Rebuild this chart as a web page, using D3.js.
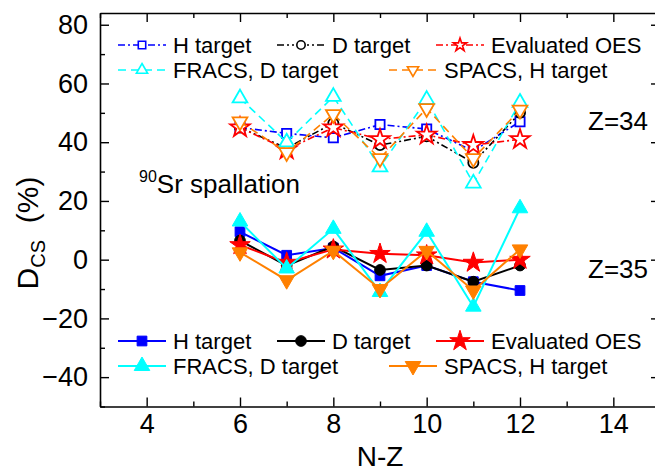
<!DOCTYPE html>
<html>
<head>
<meta charset="utf-8">
<script src="https://cdn.jsdelivr.net/npm/d3@7"></script>
<style>
  body { margin: 0; background: #fff; }
  svg text { font-family: "Liberation Sans", Arial, sans-serif; fill: #000; }
</style>
</head>
<body>
<div id="chart"></div>
<script>
// Dados
var nz = [6, 7, 8, 9, 10, 11, 12];
// Z=34 (linhas tracejadas, marcadores vazados)
var z34_h     = [45, 43, 41.5, 46, 44.5, 37, 47];
var z34_d     = [45, 38, 46.5, 39, 42, 33, 50];
var z34_oes   = [45, 37.5, 45, 41, 42.5, 39, 41];
var z34_fracs = [55, 40, 55.5, 31.5, 54.5, 26, 53.5];
var z34_spacs = [47, 36.5, 49.5, 34.5, 51.5, 34.5, 51];
// Z=35 (linhas cheias, marcadores preenchidos)
var z35_h     = [9.5, 1.5, 4, -5.5, -2, -7.5, -10.5];
var z35_d     = [6.5, -2, 4.5, -3.5, -2, -7.5, -2];
var z35_oes   = [5, -1, 3.5, 2, 1.5, -1, 0];
var z35_fracs = [13, -3, 10.5, -11, 9.5, -16, 17.5];
var z35_spacs = [2.5, -7, 3, -10, 3, -10.5, 3.5];
var names34 = ["H target", "D target", "Evaluated OES", "FRACS, D target", "SPACS, H target"];
var names35 = ["H target", "D target", "Evaluated OES", "FRACS, D target", "SPACS,  H target"];
var xTicks = [4, 6, 8, 10, 12, 14];
var yTicks = [-40, -20, 0, 20, 40, 60, 80];

(function () {
	'use strict';
	var W = 655, H = 472;
	var margin = {left: 100, top: 13};
	var width = 560, height = 393.5;

	var colors = ["#0000ff", "#000000", "#ff0000", "#00ffff", "#ff8000"];
	var symbols = [d3.symbolSquare, d3.symbolCircle, d3.symbolStar, d3.symbolTriangle, d3.symbolTriangle];
	var sizes = [95, 90, 130, 105, 105];
	var flip = [false, false, false, false, true];
	var dash34 = ["7,3,2,3", "7,3,2,3,2,3", "7,3,2,3", "8,5", "8,5"];

	var x = d3.scaleLinear().domain([3, 15]).range([0, width]);
	var y = d3.scaleLinear().domain([-50, 84]).range([height, 0]);

	var svg = d3.select("#chart").append("svg")
		.attr("width", W).attr("height", H);
	var g = svg.append("g")
		.attr("transform", "translate(" + margin.left + "," + margin.top + ")");

	//Eixos com ticks para dentro
	function minor(dom, step) { return d3.range(dom[0], dom[1] + 0.001, step); }
	var xMinor = minor([3, 15], 1).filter(function (v) { return xTicks.indexOf(v) < 0; });
	var yMinor = minor([-50, 84], 10).filter(function (v) { return yTicks.indexOf(v) < 0; });

	function axisStyle(sel) {
		sel.select(".domain").attr("stroke", "#000").attr("stroke-width", 1.6);
		sel.selectAll(".tick line").attr("stroke", "#000").attr("stroke-width", 1.4);
		sel.selectAll("text").style("font-size", "27px");
	}
	function minorStyle(s) {
		s.select(".domain").remove();
		s.selectAll("line").attr("stroke", "#000").attr("stroke-width", 1.4);
	}
	var gx = g.append("g").attr("transform", "translate(0," + height + ")")
		.call(d3.axisBottom(x).tickValues(xTicks).tickSizeInner(-9).tickSizeOuter(0).tickPadding(7));
	axisStyle(gx);
	gx.append("g").call(d3.axisBottom(x).tickValues(xMinor).tickSize(-5).tickFormat("")).call(minorStyle);

	var gy = g.append("g")
		.call(d3.axisLeft(y).tickValues(yTicks).tickSizeInner(-9).tickSizeOuter(0).tickPadding(12));
	axisStyle(gy);
	gy.append("g").call(d3.axisLeft(y).tickValues(yMinor).tickSize(-5).tickFormat("")).call(minorStyle);

	var gt = g.append("g")
		.call(d3.axisTop(x).tickValues(xTicks).tickSizeInner(-9).tickSizeOuter(0).tickFormat(""));
	axisStyle(gt);
	gt.append("g").call(d3.axisTop(x).tickValues(xMinor).tickSize(-5).tickFormat("")).call(minorStyle);
	var gr = g.append("g").attr("transform", "translate(" + width + ",0)")
		.call(d3.axisRight(y).tickValues(yTicks).tickSizeInner(-9).tickSizeOuter(0).tickFormat(""));
	axisStyle(gr);

	//Séries
	var line = d3.line().x(function (d) { return x(d[0]); }).y(function (d) { return y(d[1]); });
	var s34 = [z34_h, z34_d, z34_oes, z34_fracs, z34_spacs];
	var s35 = [z35_h, z35_d, z35_oes, z35_fracs, z35_spacs];

	function drawSeries(list, filled) {
		list.forEach(function (vals, i) {
			var pts = nz.map(function (n, k) { return [n, vals[k]]; });
			g.append("path").datum(pts)
				.attr("d", line)
				.attr("fill", "none")
				.attr("stroke", colors[i])
				.attr("stroke-width", filled ? 2 : 1.6)
				.attr("stroke-dasharray", filled ? null : dash34[i]);
			g.selectAll(null).data(pts).enter().append("path")
				.attr("d", d3.symbol().type(symbols[i]).size(filled ? sizes[i] : sizes[i] * 0.9))
				.attr("transform", function (d) {
					return "translate(" + x(d[0]) + "," + y(d[1]) + ")" + (flip[i] ? " rotate(180)" : "");
				})
				.attr("fill", filled ? colors[i] : "#fff")
				.attr("stroke", colors[i])
				.attr("stroke-width", filled ? 1 : 1.8);
		});
	}
	drawSeries(s34, false);
	drawSeries(s35, true);

	//Legendas
	var legX = [[18, 177, 336], [18, 289]];
	function legend(names, yRow1, filled) {
		names.forEach(function (name, i) {
			var row = i < 3 ? 0 : 1;
			var lx = legX[row][i < 3 ? i : i - 3];
			var ly = row === 0 ? yRow1 : yRow1 + 25;
			var lg = g.append("g").attr("transform", "translate(" + lx + "," + ly + ")");
			lg.append("line").attr("x1", 0).attr("x2", 48).attr("y1", 0).attr("y2", 0)
				.attr("stroke", colors[i])
				.attr("stroke-width", filled ? 2 : 1.6)
				.attr("stroke-dasharray", filled ? null : dash34[i]);
			lg.append("path")
				.attr("d", d3.symbol().type(symbols[i]).size(filled ? sizes[i] : 55))
				.attr("transform", "translate(24,0)" + (flip[i] ? " rotate(180)" : ""))
				.attr("fill", filled ? colors[i] : "#fff")
				.attr("stroke", colors[i])
				.attr("stroke-width", filled ? 1 : 1.6);
			lg.append("text").attr("x", 55).attr("y", 8)
				.style("font-size", "22px")
				.text(name);
		});
	}
	legend(names34, 32, false);
	legend(names35, 328, true);

	//Textos
	svg.append("text").attr("x", 588).attr("y", 130).style("font-size", "26px").text("Z=34");
	svg.append("text").attr("x", 588).attr("y", 278).style("font-size", "26px").text("Z=35");
	var sr = svg.append("text").attr("x", 139).attr("y", 193).style("font-size", "26px");
	sr.append("tspan").style("font-size", "16px").attr("dy", -11).text("90");
	sr.append("tspan").attr("dy", 11).text("Sr spallation");

	svg.append("text").attr("x", 380).attr("y", 466).attr("text-anchor", "middle")
		.style("font-size", "28px").text("N-Z");
	var yl = svg.append("text").attr("transform", "translate(38,233) rotate(-90)")
		.attr("text-anchor", "middle").style("font-size", "30px");
	yl.append("tspan").text("D");
	yl.append("tspan").style("font-size", "20px").attr("dy", 7).text("CS");
	yl.append("tspan").attr("dy", -7).text("\u00a0\u00a0(%)");
}());
</script>
</body>
</html>
